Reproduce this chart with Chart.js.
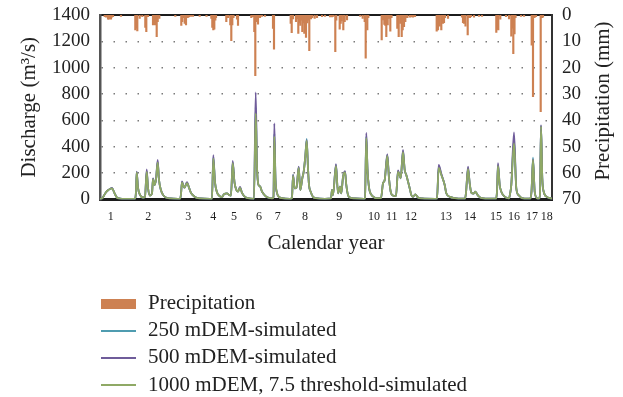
<!DOCTYPE html>
<html><head><meta charset="utf-8">
<script src="https://cdn.jsdelivr.net/npm/chart.js@4.4.1/dist/chart.umd.min.js"></script>
<style>
html,body{margin:0;padding:0;background:#fff;}
#wrap{position:relative;width:623px;height:397px;overflow:hidden;background:#fff;}
#c{position:absolute;left:0;top:0;}
.lg{position:absolute;font-family:"Liberation Serif",serif;font-size:21px;line-height:22px;color:#222;white-space:nowrap;}
.sw{position:absolute;left:101px;width:35px;}
</style>
</head><body>
<div id="wrap">
<canvas id="c" width="623" height="397"></canvas>
<div class="sw" style="top:299px;height:10px;background:#cd8152;"></div>
<div class="lg" style="left:148px;top:291px;">Precipitation</div>
<div class="sw" style="top:330px;height:2px;background:#4f9cb0;"></div>
<div class="lg" style="left:148px;top:318px;">250 mDEM-simulated</div>
<div class="sw" style="top:357px;height:2px;background:#6f5c9a;"></div>
<div class="lg" style="left:148px;top:345px;">500 mDEM-simulated</div>
<div class="sw" style="top:384px;height:2px;background:#8fa965;"></div>
<div class="lg" style="left:148px;top:373px;">1000 mDEM, 7.5 threshold-simulated</div>
</div>
<script>
// ---- data (time index along the record) ----
const yearLabels = ["1","2","3","4","5","6","7","8","9","10","11","12","13","14","15","16","17","18"];
const yearTickPos = [10.7,48.3,88.3,113.3,134,159,177.7,205,239.3,274,291.7,311,346,370,396,414,432,446.7];

const qTime = [0,2,4,6,8,10,12,13,15,17,19,22,30,
 35,36,36.7,38,40,43,45,46.7,48,50,52,53,54.5,56,57.7,59,61,63,66,70,78,
 80,81,82,83.5,84.5,87,89,91,94,97,100,110,
 112,113.3,115,117,119,122,124,127,129,131,132.7,134.5,136.5,138,140,142,145,148,154,
 155.7,157,158.5,160,162,165,168,172,
 173.5,174.3,175.5,177,179,182,190,
 192,193,194.7,196.5,198.7,200.3,202.3,203.7,205.3,206.7,208,209,210.7,213,216,225,
 231,232,233,236,238,240,241.3,243,245,246.3,248,250,255,264,
 265,266.3,267.5,269,271,274,277,
 281,283,284.7,287.3,289,290.7,293,
 296,298,299,300.7,303,304.7,306.3,309.7,311.3,313,315.3,318,322,335,
 337,338.7,341.3,344.7,346.3,350,355,362,
 365,366,368,369.7,371.3,373.7,375.3,378,382,390,
 396,397,398,399.7,401.3,405,408,
 409,410,411.3,414,416.3,419,422,428,
 430,431.5,433,434.7,437,
 439,440,441,442.3,443.7,447,452];

const q1000 = [5,8,30,55,70,80,85,75,40,15,8,5,4,
 5,60,205,90,35,15,20,210,90,30,45,155,110,150,280,150,70,35,15,8,5,
 5,40,130,100,90,125,90,50,25,12,8,5,
 5,310,130,55,30,20,40,47,35,30,275,130,70,60,90,50,20,10,5,
 654,250,110,100,60,30,15,8,
 20,476,150,50,20,10,5,
 10,180,85,90,240,72,161,211,325,445,237,110,59,20,10,5,
 8,72,34,255,47,97,47,170,205,110,34,15,8,5,
 8,465,230,90,40,18,10,
 10,123,148,330,161,59,30,
 25,210,199,161,360,224,186,85,34,20,39,15,8,5,
 6,240,186,110,47,20,10,6,
 6,50,230,123,52,45,59,30,10,6,
 6,60,255,110,59,20,10,
 8,40,110,425,85,30,10,6,
 6,60,300,59,10,
 6,40,555,161,59,20,6];

const q500 = [5,8,30,55,70,80,88,75,40,15,8,5,4,
 5,60,212,90,35,15,20,229,90,30,45,160,110,150,300,150,70,35,15,8,5,
 5,40,137,100,90,132,90,50,25,12,8,5,
 5,337,130,55,30,20,40,47,35,30,292,130,70,60,95,50,20,10,5,
 813,250,110,100,60,30,15,8,
 20,578,150,50,20,10,5,
 10,186,85,90,249,72,161,211,325,451,237,110,59,20,10,5,
 8,72,34,268,47,97,47,170,215,110,34,15,8,5,
 8,505,230,90,40,18,10,
 10,123,148,345,161,59,30,
 25,220,199,161,376,224,186,85,34,20,39,15,8,5,
 6,262,195,110,47,20,10,6,
 6,50,249,123,52,45,59,30,10,6,
 6,60,275,110,59,20,10,
 8,40,110,510,85,30,10,6,
 6,60,305,59,10,
 6,40,565,161,59,20,6];

const q250 = [5,8,30,55,70,80,86,75,40,15,8,5,4,
 5,60,208,90,35,15,20,215,90,30,45,158,110,150,285,150,70,35,15,8,5,
 5,40,133,100,90,128,90,50,25,12,8,5,
 5,320,130,55,30,20,40,47,35,30,282,130,70,60,92,50,20,10,5,
 700,250,110,100,60,30,15,8,
 20,500,150,50,20,10,5,
 10,186,85,90,245,72,161,211,325,460,237,110,59,20,10,5,
 8,72,34,262,47,97,47,170,211,110,34,15,8,5,
 8,480,230,90,40,18,10,
 10,123,148,337,161,59,30,
 25,216,199,161,368,224,186,85,34,20,39,15,8,5,
 6,250,190,110,47,20,10,6,
 6,50,238,123,52,45,59,30,10,6,
 6,60,262,110,59,20,10,
 8,40,110,450,85,30,10,6,
 6,60,318,59,10,
 6,40,558,161,59,20,6];

const precipTime = [4.7,6,8,9,10,11,12,13,21,
 35.3,36.3,37.3,39.7,42.3,45.3,46.3,48,53,54,55,56.7,57.7,59.3,75.3,
 81.3,82.3,83.3,84.7,86,87.7,89,91,93,99.7,106.5,
 111.3,112.3,113.3,114.3,115.3,116,126.3,128,130.3,131.3,132.3,133.5,137,138,
 151.3,153,154.3,155.3,156.3,158,160,162,165,173,174,
 190.7,191.7,193,196,197.3,198.3,199.3,200.3,201.3,202.3,203.3,204.3,205.3,206,207.3,208.3,209.3,211,212.3,214.7,217,222,225,
 230,232,233,235.3,236.3,239.7,240.7,241.7,243.3,244.7,247,
 260.3,262.7,264.7,265.7,267.3,268.3,
 281.7,283,284.3,285.3,286.3,287.7,289,290.3,291.5,
 297.3,298.7,300.3,301.7,302.7,304,305.3,306.3,307.3,309.7,311,313,315,
 336.7,338,339.7,341.3,343,344,345,348,
 362,363,364,365.5,367.7,368.7,370,371,374,379,382,
 396.3,397.3,398.3,400.3,406,409,411.3,412.3,413.3,414.5,415.5,421,424,
 431.7,433,434.5,436,440.7,442,443];

const precipMm = [0.6,0.8,1.6,1.6,1.4,1.6,0.8,0.6,0.5,
 5.7,5.0,6.0,1.3,0.6,4.7,6.3,0.6,3.8,3.5,3.8,8.2,2.5,1.3,0.5,
 4.0,2.5,1.0,3.2,3.8,1.0,0.7,0.5,0.5,0.5,0.5,
 1.3,4.7,5.7,5.4,2.0,1.0,2.5,1.0,3.8,9.7,3.8,1.0,1.6,4.0,
 1.0,0.6,6.3,23.0,2.5,3.5,1.0,0.5,0.5,5.1,13.0,
 3.2,6.7,1.5,2.5,1.5,7.0,3.0,4.0,2.0,6.3,3.0,7.0,4.4,8.5,3.0,2.0,13.5,1.5,1.0,1.3,1.0,0.6,0.5,
 0.7,0.7,0.5,13.9,2.0,5.4,3.2,2.2,5.7,2.5,1.9,
 0.5,1.3,2.5,16.4,5.7,1.0,
 9.5,1.9,3.6,4.0,8.2,3.8,1.3,6.1,1.0,
 5.1,8.2,3.2,8.2,5.7,4.4,2.5,1.0,1.0,0.8,0.7,0.8,0.6,
 6.1,5.7,4.2,5.7,3.2,2.9,1.0,1.3,
 0.8,2.9,3.2,4.2,7.6,1.0,1.0,0.6,0.8,0.5,0.5,
 6.6,5.5,5.7,1.6,0.6,1.5,8.0,5.0,14.7,7.2,1.0,0.5,0.5,
 11.4,31.0,1.0,0.6,36.7,1.0,0.8];

const dischargeTicks = [0,200,400,600,800,1000,1200,1400];
const precipTicks = [0,10,20,30,40,50,60,70];

// ---- chart ----
const FONT = '"Liberation Serif", serif';
const TXT = '#222';
const pts = arr => qTime.map((t, i) => ({x: t, y: arr[i]}));
const noPad = s => { s.paddingTop = 0; s.paddingBottom = 0; s.paddingLeft = 0; s.paddingRight = 0; };

const rightTitle = {
  id: 'rightTitle',
  afterDraw(chart) {
    const c = chart.ctx;
    c.save();
    c.translate(603, 101);
    c.rotate(-Math.PI / 2);
    c.font = '21px ' + FONT;
    c.fillStyle = TXT;
    c.textAlign = 'center';
    c.textBaseline = 'middle';
    c.fillText('Precipitation (mm)', 0, 0);
    c.restore();
  }
};

new Chart(document.getElementById('c'), {
  type: 'line',
  data: {
    datasets: [
      {label: '1000 mDEM, 7.5 threshold-simulated', data: pts(q1000), borderColor: '#8fa965', borderWidth: 1.8, pointRadius: 0, cubicInterpolationMode: 'monotone', yAxisID: 'y', order: 0},
      {label: '500 mDEM-simulated', data: pts(q500), borderColor: '#6f5c9a', borderWidth: 1.8, pointRadius: 0, cubicInterpolationMode: 'monotone', yAxisID: 'y', order: 1},
      {label: '250 mDEM-simulated', data: pts(q250), borderColor: '#4f9cb0', borderWidth: 1.8, pointRadius: 0, cubicInterpolationMode: 'monotone', yAxisID: 'y', order: 2},
      {type: 'bar', label: 'Precipitation', data: precipTime.map((t, i) => ({x: t, y: precipMm[i]})), backgroundColor: '#cd8152', barThickness: 1.5, yAxisID: 'yP', order: 3}
    ]
  },
  options: {
    responsive: false, animation: false, devicePixelRatio: 1,
    layout: {padding: {top: 15, bottom: 141, left: 0, right: 0}},
    plugins: {legend: {display: false}, tooltip: {enabled: false}},
    scales: {
      x: {
        type: 'linear', position: 'bottom', min: 0, max: 452, offset: false,
        grid: {display: false, drawTicks: false},
        border: {display: true, color: '#1c1c1c', width: 3},
        afterBuildTicks: s => { s.ticks = yearTickPos.map(v => ({value: v})); },
        ticks: {autoSkip: false, maxRotation: 0, padding: 10, color: TXT, font: {family: FONT, size: 12},
          callback: (v, i) => yearLabels[i]},
        title: {display: true, text: 'Calendar year', color: TXT, font: {family: FONT, size: 21}, padding: 0},
        afterFit: s => { s.height = 56.5; noPad(s); }
      },
      xTop: {
        type: 'linear', position: 'top', min: 0, max: 452, offset: false,
        grid: {display: false, drawTicks: false},
        ticks: {display: false},
        border: {display: true, color: '#1c1c1c', width: 2},
        afterFit: s => { s.height = 0; noPad(s); }
      },
      y: {
        position: 'left', min: 0, max: 1400,
        afterBuildTicks: s => { s.ticks = dischargeTicks.map(v => ({value: v})); },
        ticks: {autoSkip: false, padding: 10, color: TXT, font: {family: FONT, size: 19}, callback: v => String(v)},
        grid: {drawTicks: false, lineWidth: 1.5,
          color: c => (c.tick && c.tick.value > 0 && c.tick.value < 1400) ? '#7a7a7a' : 'rgba(0,0,0,0)'},
        border: {display: true, color: '#555', width: 2.5, dash: [1.5, 10.5]},
        title: {display: true, text: 'Discharge (m³/s)', color: TXT, font: {family: FONT, size: 21}, padding: {top: 17, bottom: 0}},
        afterFit: s => { s.width = 100; noPad(s); }
      },
      yP: {
        position: 'right', reverse: true, min: 0, max: 70,
        afterBuildTicks: s => { s.ticks = precipTicks.map(v => ({value: v})); },
        ticks: {autoSkip: false, padding: 10, color: TXT, font: {family: FONT, size: 19}, callback: v => String(v)},
        grid: {display: false, drawTicks: false},
        border: {display: true, color: '#333', width: 2},
        afterFit: s => { s.width = 71; noPad(s); }
      }
    }
  },
  plugins: [rightTitle]
});
</script>
</body></html>
